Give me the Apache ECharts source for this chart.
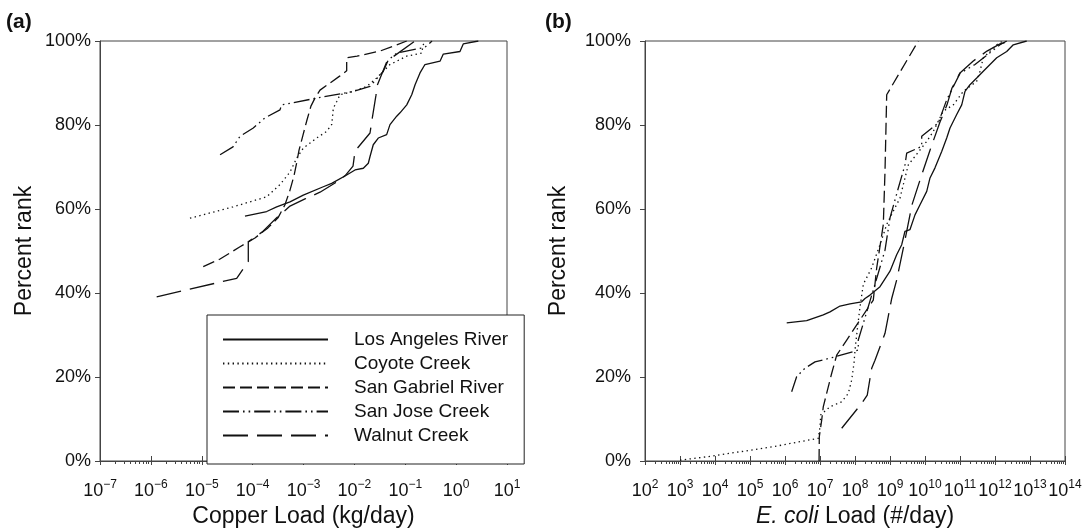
<!DOCTYPE html>
<html>
<head>
<meta charset="utf-8">
<script src="https://cdn.jsdelivr.net/npm/echarts@6/dist/echarts.min.js"></script>
<style>
  html, body { margin: 0; padding: 0; background: #fff; }
  #main { width: 1090px; height: 529px; }
</style>
</head>
<body>
<div id="main"></div>
<script>
// series names (legend order)
const seriesNames = ['Los Angeles River', 'Coyote Creek', 'San Gabriel River', 'San Jose Creek', 'Walnut Creek'];

// decades shown on the two x axes (exponents of 10)
const cuDecades = [-7, -6, -5, -4, -3, -2, -1, 0, 1];
const ecDecades = [2, 3, 4, 5, 6, 7, 8, 9, 10, 11, 12, 13, 14];
const rankTicks = [0, 20, 40, 60, 80, 100];

// (a) copper load, kg/day vs percent rank
const cuLosAngeles = [[7.08e-5, 58.3], [1.89e-4, 59.4], [2.97e-4, 60.5], [5.43e-4, 61.7], [9.9e-4, 63.3], [2.45e-3, 65.3], [3.58e-3, 66.1], [7.06e-3, 68.1], [1.03e-2, 69.3], [1.5e-2, 69.7], [1.88e-2, 70.9], [2.03e-2, 72.5], [2.35e-2, 75.3], [2.95e-2, 76.9], [4.31e-2, 77.7], [5.01e-2, 80.1], [6.79e-2, 82.1], [7.89e-2, 82.9], [0.107, 84.8], [0.134, 87.2], [0.156, 89.6], [0.195, 92.4], [0.244, 94.4], [0.482, 95.2], [0.56, 96.9], [1.19, 97.5], [1.38, 99.3], [2.73, 100]];
const cuCoyote = [[5.87e-6, 57.8], [4.11e-5, 60.5], [1.89e-4, 62.9], [3.45e-4, 65.8], [5.43e-4, 68.8], [7.34e-4, 72.1], [9.9e-4, 74.5], [1.82e-3, 76.9], [2.86e-3, 78.5], [3.58e-3, 80.1], [3.86e-3, 84.0], [4.5e-3, 85.6], [5.21e-3, 87.2], [9.53e-3, 88.0], [1.75e-2, 89.2], [2.75e-2, 91.2], [3.71e-2, 92.8], [5.01e-2, 94.4], [0.107, 96.4], [0.21, 97.1], [0.226, 99.1], [0.25, 100]];
const cuSanGabriel = [[1.07e-5, 46.3], [2.29e-5, 48.1], [5.65e-5, 51.0], [1.11e-4, 53.1], [2.0e-4, 55.5], [3.15e-4, 57.9], [4.32e-4, 61.0], [5.43e-4, 64.5], [6.5e-4, 67.9], [7.34e-4, 71.0], [8.17e-4, 74.0], [9.77e-4, 77.6], [1.17e-3, 81.2], [1.4e-3, 84.5], [1.68e-3, 86.4], [2.11e-3, 88.3], [3.32e-3, 90.0], [5.21e-3, 91.7], [7.06e-3, 92.9], [7.06e-3, 96.0], [1.13e-2, 96.4], [3.19e-2, 97.6], [0.107, 100]];
const cuSanJose = [[2.29e-5, 72.9], [4.11e-5, 74.8], [5.65e-5, 77.3], [1.03e-4, 79.3], [1.75e-4, 81.7], [3.45e-4, 83.6], [3.73e-4, 84.8], [1.82e-3, 86.4], [9.53e-3, 88.0], [2.03e-2, 89.2], [3.71e-2, 92.8], [4.65e-2, 95.5], [6.79e-2, 97.1], [0.244, 98.5], [0.336, 100]];
const cuWalnut = [[1.3e-6, 39.1], [4.86e-5, 43.5], [8.22e-5, 47.5], [8.22e-5, 52.2], [1.53e-4, 54.5], [2.97e-4, 57.9], [5.43e-4, 60.7], [1.07e-3, 62.4], [2.11e-3, 64.0], [4.16e-3, 66.2], [6.54e-3, 67.9], [9.4e-3, 70.2], [1.03e-2, 73.8], [2.03e-2, 78.1], [2.22e-2, 81.2], [2.66e-2, 87.1], [2.79e-2, 89.3], [4.37e-2, 95.2], [0.156, 100]];

// (b) E. coli load, #/day vs percent rank
const ecLosAngeles = [[1.12e6, 32.9], [4.17e6, 33.4], [1.24e7, 34.8], [1.93e7, 35.5], [3.73e7, 36.9], [7.2e7, 37.4], [1.55e8, 37.9], [1.93e8, 38.7], [2.68e8, 39.5], [5.18e8, 41.5], [1.0e9, 45.2], [1.55e9, 49.1], [2.16e9, 51.5], [2.68e9, 54.7], [3.73e9, 55.1], [5.18e9, 58.6], [7.2e9, 61.0], [1.12e10, 64.2], [1.39e10, 67.4], [1.93e10, 69.8], [3.0e10, 73.7], [4.17e10, 76.9], [5.18e10, 79.3], [8.05e10, 82.5], [1.12e11, 84.8], [1.39e11, 88.0], [1.93e11, 89.6], [3.0e11, 91.2], [4.63e11, 92.8], [7.2e11, 94.4], [1.12e12, 96.0], [2.16e12, 97.5], [3.33e12, 99.1], [8.05e12, 100]];
const ecCoyote = [[1e3, 0.2], [5.8e3, 1.0], [5.18e4, 2.2], [4.63e5, 3.4], [2.68e6, 4.6], [8.94e6, 5.4], [1e7, 8.2], [1.05e7, 11.0], [1.93e7, 12.9], [4.17e7, 14.1], [6.44e7, 16.1], [8.05e7, 19.3], [9.36e7, 23.3], [1e8, 26.4], [1.16e8, 31.2], [1.39e8, 36.7], [1.73e8, 42.1], [3.0e8, 46.0], [5.18e8, 51.5], [8.05e8, 56.3], [1.24e9, 59.5], [1.93e9, 62.6], [2.4e9, 65.8], [3.33e9, 70.5], [1.12e10, 76.1], [1.73e10, 78.5], [3.33e10, 83.3], [6.44e10, 84.8], [1.24e11, 88.0], [3.0e11, 90.4], [3.73e11, 92.8], [4.63e11, 96.0], [1.12e12, 99.1], [1.69e12, 100]];
const ecSanGabriel = [[9.4e6, 0], [9.55e6, 5.8], [1.12e7, 9.8], [1.24e7, 12.9], [2.16e7, 20.9], [3.0e7, 25.2], [5.8e7, 28.8], [1.12e8, 32.4], [2.16e8, 36.0], [3.33e8, 38.3], [4.17e8, 46.0], [6.44e8, 56.3], [7.2e8, 69.0], [8.05e8, 87.2], [6.44e9, 100]];
const ecSanJose = [[1.55e6, 16.5], [2.16e6, 20.1], [3.73e6, 22.1], [7.2e6, 23.6], [2.4e7, 24.7], [1.24e8, 26.4], [1.24e8, 28.8], [3.33e8, 40.7], [7.2e8, 50.2], [1.0e9, 57.9], [1.73e9, 65.0], [2.68e9, 70.5], [3.0e9, 73.3], [8.05e9, 74.9], [8.05e9, 77.3], [2.4e10, 80.5], [4.17e10, 86.0], [1.0e11, 92.3], [2.68e11, 94.4], [1.39e12, 99.1], [2.16e12, 100]];
const ecWalnut = [[4.17e7, 7.8], [1.55e8, 13.7], [2.24e8, 15.7], [3.0e8, 22.1], [3.73e8, 24.0], [7.2e8, 30.4], [1.12e9, 38.7], [1.55e9, 43.1], [2.68e9, 52.6], [4.25e9, 61.0], [7.2e9, 66.9], [1.39e10, 74.0], [2.68e10, 80.7], [4.25e10, 84.8], [5.9e10, 88.8], [1e11, 92.4], [2.35e11, 95.2], [5.9e11, 97.6], [1.39e12, 99.3], [2.68e12, 100]];

const cuData = [cuLosAngeles, cuCoyote, cuSanGabriel, cuSanJose, cuWalnut];
const ecData = [ecLosAngeles, ecCoyote, ecSanGabriel, ecSanJose, ecWalnut];

const FONT = '"Liberation Sans", Arial, Helvetica, sans-serif';
const INK = '#111';
const AXIS = '#444';
// line dash per stream: solid, dotted, short dash, dash-dot-dot, long dash
const dashes = ['solid', [1.4, 3.4], [12, 5], [16, 4, 1.6, 4, 1.6, 4], [25, 9]];

const pow10 = e => Math.pow(10, e);
function minorTicks(decades) {
  let out = [];
  for (let i = 0; i < decades.length - 1; i++) {
    for (let k = 2; k < 10; k++) out.push(k * pow10(decades[i]));
  }
  return out;
}
function expLabel(v) {
  let e = Math.round(Math.log10(v));
  return '{b|10}{e|' + (e < 0 ? '\u2212' + (-e) : e) + '}';
}

function xAxes(grid, decades, name) {
  let lo = pow10(decades[0]), hi = pow10(decades[decades.length - 1]);
  let majors = decades.map(pow10);
  let base = { type: 'log', logBase: 10, gridIndex: grid, min: lo, max: hi, position: 'bottom', splitLine: { show: false } };
  return [
    Object.assign({}, base, {
      name: name,
      nameLocation: 'middle',
      nameGap: 39,
      nameTextStyle: { fontFamily: FONT, fontSize: 23, color: INK,
        rich: { i: { fontFamily: FONT, fontSize: 23, fontStyle: 'italic', color: INK } } },
      axisLine: { show: true, lineStyle: { color: AXIS, width: 1 } },
      axisTick: { show: true, length: 4, customValues: majors, lineStyle: { color: AXIS } },
      axisLabel: {
        customValues: majors, margin: 18, formatter: expLabel, color: INK,
        rich: {
          b: { fontFamily: FONT, fontSize: 18, lineHeight: 24, color: INK },
          e: { fontFamily: FONT, fontSize: 12, lineHeight: 10, verticalAlign: 'top', color: INK }
        }
      }
    }),
    Object.assign({}, base, {
      axisLine: { show: false }, axisLabel: { show: false },
      axisTick: { show: true, inside: true, length: 5, customValues: majors, lineStyle: { color: AXIS } }
    }),
    Object.assign({}, base, {
      axisLine: { show: false }, axisLabel: { show: false },
      axisTick: { show: true, length: 3, customValues: minorTicks(decades), lineStyle: { color: AXIS } }
    })
  ];
}

function yAxis(grid, labelGap, nameGap) {
  return {
    type: 'value', gridIndex: grid, min: 0, max: 100, interval: 20, position: 'left',
    name: 'Percent rank', nameLocation: 'middle', nameGap: nameGap,
    nameTextStyle: { fontFamily: FONT, fontSize: 23, color: INK },
    axisLine: { show: true, lineStyle: { color: AXIS } },
    axisTick: { show: true, length: 5, customValues: rankTicks, lineStyle: { color: AXIS } },
    axisLabel: { formatter: '{value}%', fontFamily: FONT, fontSize: 18, color: INK, margin: labelGap },
    splitLine: { show: false }
  };
}

let series = [];
seriesNames.forEach(function (n, i) {
  let common = {
    name: n, type: 'line', symbol: 'none', showSymbol: false, silent: true,
    lineStyle: { color: INK, width: 1.3, type: dashes[i] },
    itemStyle: { color: INK }
  };
  series.push(Object.assign({}, common, { xAxisIndex: 0, yAxisIndex: 0, data: cuData[i] }));
  series.push(Object.assign({}, common, { xAxisIndex: 3, yAxisIndex: 1, data: ecData[i] }));
});

const chart = echarts.init(document.getElementById('main'), null, { renderer: 'canvas' });
chart.setOption({
  animation: false,
  backgroundColor: '#fff',
  title: [
    { text: '(a)', left: 6, top: 12, padding: 0, textStyle: { fontFamily: FONT, fontSize: 21, fontWeight: 'bold', color: INK } },
    { text: '(b)', left: 545, top: 12, padding: 0, textStyle: { fontFamily: FONT, fontSize: 21, fontWeight: 'bold', color: INK } }
  ],
  grid: [
    { left: 100, right: 583, top: 41, bottom: 68, show: true, borderColor: AXIS, borderWidth: 1, outerBoundsMode: 'none' },
    { left: 645, right: 25, top: 41, bottom: 68, show: true, borderColor: AXIS, borderWidth: 1, outerBoundsMode: 'none' }
  ],
  legend: {
    data: seriesNames, orient: 'vertical', left: 207, top: 315,
    itemWidth: 105, itemHeight: 14, itemGap: 5,
    padding: [15, 16, 19, 15],
    borderColor: '#222', borderWidth: 1, backgroundColor: '#fff',
    selectedMode: false,
    itemStyle: { color: 'transparent', borderWidth: 0, opacity: 0 },
    textStyle: { fontFamily: FONT, fontSize: 19, color: INK, padding: [0, 0, 0, 21] }
  },
  xAxis: xAxes(0, cuDecades, 'Copper Load (kg/day)').concat(xAxes(1, ecDecades, '{i|E. coli} Load (#/day)')),
  yAxis: [yAxis(0, 9, 64), yAxis(1, 14, 75)],
  series: series
});
</script>
</body>
</html>
